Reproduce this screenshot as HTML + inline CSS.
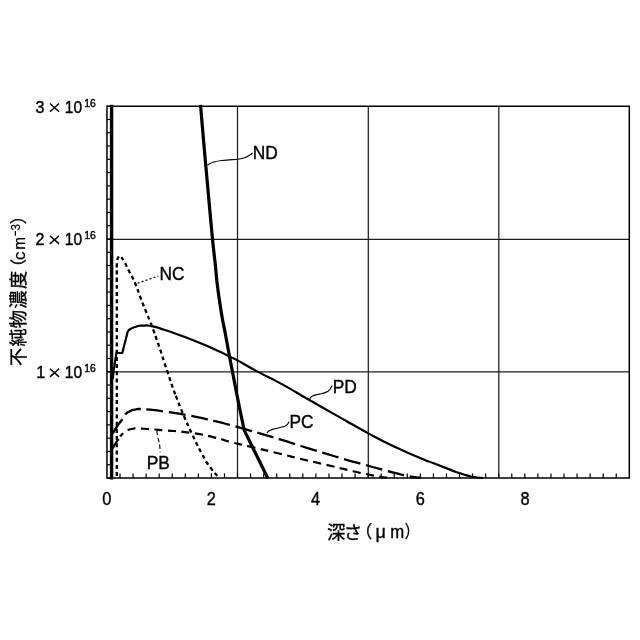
<!DOCTYPE html>
<html><head><meta charset="utf-8"><title>chart</title>
<style>html,body{margin:0;padding:0;background:#fff;overflow:hidden}svg{display:block;position:absolute;left:0;top:0;will-change:transform}</style></head>
<body>
<svg width="640" height="640" viewBox="0 0 640 640">
<rect width="640" height="640" fill="#fff"/>
<g stroke="#1c1c1c" stroke-width="1.25" fill="none">
<line x1="237.50" y1="106.20" x2="237.50" y2="478.00"/>
<line x1="368.30" y1="106.20" x2="368.30" y2="478.00"/>
<line x1="498.80" y1="106.20" x2="498.80" y2="478.00"/>
<line x1="106.95" y1="239.30" x2="629.30" y2="239.30"/>
<line x1="106.95" y1="371.95" x2="629.30" y2="371.95"/>
</g>
<g stroke="#000" stroke-width="1.5" fill="none">
<path d="M106.95 106.20 H629.30 V478.00 H106.95 Z"/>
</g>
<g stroke="#000" stroke-width="1.2" fill="none">
<line x1="120.01" y1="478.00" x2="120.01" y2="473.40"/>
<line x1="133.07" y1="478.00" x2="133.07" y2="473.40"/>
<line x1="146.13" y1="478.00" x2="146.13" y2="473.40"/>
<line x1="159.19" y1="478.00" x2="159.19" y2="473.40"/>
<line x1="172.24" y1="478.00" x2="172.24" y2="473.40"/>
<line x1="185.30" y1="478.00" x2="185.30" y2="473.40"/>
<line x1="198.36" y1="478.00" x2="198.36" y2="473.40"/>
<line x1="211.42" y1="478.00" x2="211.42" y2="473.40"/>
<line x1="224.48" y1="478.00" x2="224.48" y2="473.40"/>
<line x1="237.54" y1="478.00" x2="237.54" y2="473.40"/>
<line x1="250.60" y1="478.00" x2="250.60" y2="473.40"/>
<line x1="263.65" y1="478.00" x2="263.65" y2="473.40"/>
<line x1="276.71" y1="478.00" x2="276.71" y2="473.40"/>
<line x1="289.77" y1="478.00" x2="289.77" y2="473.40"/>
<line x1="302.83" y1="478.00" x2="302.83" y2="473.40"/>
<line x1="315.89" y1="478.00" x2="315.89" y2="473.40"/>
<line x1="328.95" y1="478.00" x2="328.95" y2="473.40"/>
<line x1="342.01" y1="478.00" x2="342.01" y2="473.40"/>
<line x1="355.07" y1="478.00" x2="355.07" y2="473.40"/>
<line x1="368.12" y1="478.00" x2="368.12" y2="473.40"/>
<line x1="381.18" y1="478.00" x2="381.18" y2="473.40"/>
<line x1="394.24" y1="478.00" x2="394.24" y2="473.40"/>
<line x1="407.30" y1="478.00" x2="407.30" y2="473.40"/>
<line x1="420.36" y1="478.00" x2="420.36" y2="473.40"/>
<line x1="433.42" y1="478.00" x2="433.42" y2="473.40"/>
<line x1="446.48" y1="478.00" x2="446.48" y2="473.40"/>
<line x1="459.54" y1="478.00" x2="459.54" y2="473.40"/>
<line x1="472.59" y1="478.00" x2="472.59" y2="473.40"/>
<line x1="485.65" y1="478.00" x2="485.65" y2="473.40"/>
<line x1="498.71" y1="478.00" x2="498.71" y2="473.40"/>
<line x1="511.77" y1="478.00" x2="511.77" y2="473.40"/>
<line x1="524.83" y1="478.00" x2="524.83" y2="473.40"/>
<line x1="537.89" y1="478.00" x2="537.89" y2="473.40"/>
<line x1="550.95" y1="478.00" x2="550.95" y2="473.40"/>
<line x1="564.01" y1="478.00" x2="564.01" y2="473.40"/>
<line x1="577.06" y1="478.00" x2="577.06" y2="473.40"/>
<line x1="590.12" y1="478.00" x2="590.12" y2="473.40"/>
<line x1="603.18" y1="478.00" x2="603.18" y2="473.40"/>
<line x1="616.24" y1="478.00" x2="616.24" y2="473.40"/>
<line x1="106.95" y1="478.00" x2="111.45" y2="478.00"/>
<line x1="106.95" y1="464.72" x2="111.45" y2="464.72"/>
<line x1="106.95" y1="451.44" x2="111.45" y2="451.44"/>
<line x1="106.95" y1="438.16" x2="111.45" y2="438.16"/>
<line x1="106.95" y1="424.89" x2="111.45" y2="424.89"/>
<line x1="106.95" y1="411.61" x2="111.45" y2="411.61"/>
<line x1="106.95" y1="398.33" x2="111.45" y2="398.33"/>
<line x1="106.95" y1="385.05" x2="111.45" y2="385.05"/>
<line x1="106.95" y1="371.77" x2="111.45" y2="371.77"/>
<line x1="106.95" y1="358.49" x2="111.45" y2="358.49"/>
<line x1="106.95" y1="345.21" x2="111.45" y2="345.21"/>
<line x1="106.95" y1="331.94" x2="111.45" y2="331.94"/>
<line x1="106.95" y1="318.66" x2="111.45" y2="318.66"/>
<line x1="106.95" y1="305.38" x2="111.45" y2="305.38"/>
<line x1="106.95" y1="292.10" x2="111.45" y2="292.10"/>
<line x1="106.95" y1="278.82" x2="111.45" y2="278.82"/>
<line x1="106.95" y1="265.54" x2="111.45" y2="265.54"/>
<line x1="106.95" y1="252.26" x2="111.45" y2="252.26"/>
<line x1="106.95" y1="238.99" x2="111.45" y2="238.99"/>
<line x1="106.95" y1="225.71" x2="111.45" y2="225.71"/>
<line x1="106.95" y1="212.43" x2="111.45" y2="212.43"/>
<line x1="106.95" y1="199.15" x2="111.45" y2="199.15"/>
<line x1="106.95" y1="185.87" x2="111.45" y2="185.87"/>
<line x1="106.95" y1="172.59" x2="111.45" y2="172.59"/>
<line x1="106.95" y1="159.31" x2="111.45" y2="159.31"/>
<line x1="106.95" y1="146.04" x2="111.45" y2="146.04"/>
<line x1="106.95" y1="132.76" x2="111.45" y2="132.76"/>
<line x1="106.95" y1="119.48" x2="111.45" y2="119.48"/>
<line x1="106.95" y1="106.20" x2="111.45" y2="106.20"/>
</g>
<g stroke="#000" fill="none" stroke-linejoin="round">
<line x1="111.6" y1="104.70" x2="111.6" y2="479.40" stroke-width="3.4"/>
<path d="M200.55 104.80 C201.53 116.53 201.32 114.93 203.50 140.00 C205.68 165.07 205.00 156.67 207.10 180.00 C209.20 203.33 208.00 190.42 209.80 210.00 C211.60 229.58 210.83 222.08 212.50 238.75 C214.17 255.42 212.50 239.58 214.80 260.00 C217.10 280.42 215.50 273.33 219.40 300.00 C223.30 326.67 222.13 316.03 226.50 340.00 C230.87 363.97 228.00 348.57 232.50 371.90 C237.00 395.23 236.03 390.43 240.00 410.00 C243.97 429.57 242.93 423.73 244.40 430.60 L267.8 478.3" stroke-width="3.2"/>
<path d="M112.80 379.00 L113.60 371.00 L115.00 362.00 L116.40 353.00 L122.30 353.00 L128.00 330.60" stroke-width="2.2"/>
<path d="M128.00 330.60 C130.33 329.40 130.00 328.67 135.00 327.00 C140.00 325.33 137.33 325.83 143.00 325.60 C148.67 325.37 144.67 324.83 152.00 326.30 C159.33 327.77 155.67 327.00 165.00 330.00 C174.33 333.00 171.67 332.27 180.00 335.30 C188.33 338.33 178.33 334.40 190.00 339.10 C201.67 343.80 201.67 343.50 215.00 349.40 C228.33 355.30 222.50 353.13 230.00 356.80 C237.50 360.47 228.13 355.37 237.50 360.40 C246.87 365.43 243.93 364.33 258.10 371.90 C272.27 379.47 262.90 373.73 280.00 383.10 C297.10 392.47 291.07 389.50 309.40 400.00 C327.73 410.50 318.13 405.02 335.00 414.60 C351.87 424.18 345.00 420.45 360.00 428.75 C375.00 437.05 367.50 433.05 380.00 439.50 C392.50 445.95 384.17 441.93 397.50 448.10 C410.83 454.27 407.50 452.77 420.00 458.00 C432.50 463.23 425.00 459.93 435.00 463.80 C445.00 467.67 441.67 466.43 450.00 469.60 C458.33 472.77 453.33 471.10 460.00 473.30 C466.67 475.50 464.33 474.80 470.00 476.20 C475.67 477.60 472.67 476.90 477.00 477.50 C481.33 478.10 481.00 477.83 483.00 478.00" stroke-width="2.2"/>
<path d="M112.50 434.00 C114.00 431.50 113.87 431.23 117.00 426.50 C120.13 421.77 119.23 423.77 121.90 419.80 C124.57 415.83 122.30 417.47 125.00 414.60 C127.70 411.73 126.67 412.87 130.00 411.20 C133.33 409.53 131.47 410.33 135.00 409.60 C138.53 408.87 135.60 408.97 140.60 409.00 C145.60 409.03 141.87 408.83 150.00 409.70 C158.13 410.57 151.67 409.63 165.00 411.60 C178.33 413.57 173.33 412.40 190.00 415.60 C206.67 418.80 201.67 418.07 215.00 421.20 C228.33 424.33 218.33 421.87 230.00 425.00 C241.67 428.13 233.33 425.80 250.00 430.60 C266.67 435.40 263.00 434.27 280.00 439.40 C297.00 444.53 286.83 441.60 301.00 446.00 C315.17 450.40 308.25 448.27 322.50 452.60 C336.75 456.93 331.05 455.30 343.75 459.00 C356.45 462.70 347.52 460.10 360.60 463.70 C373.68 467.30 371.20 466.63 383.00 469.80 C394.80 472.97 388.67 471.30 396.00 473.20 C403.33 475.10 399.33 474.23 405.00 475.50 C410.67 476.77 407.67 476.20 413.00 477.00 C418.33 477.80 418.33 477.60 421.00 477.90" stroke-width="2.3" stroke-dasharray="17.1 5.59" stroke-dashoffset="22.06"/>
<path d="M123.20 433.00 C124.63 432.07 124.57 431.53 127.50 430.20 C130.43 428.87 128.50 429.57 132.00 429.00 C135.50 428.43 132.00 428.43 138.00 428.50 C144.00 428.57 141.00 428.57 150.00 429.20 C159.00 429.83 151.67 429.23 165.00 430.40 C178.33 431.57 173.33 430.30 190.00 432.70 C206.67 435.10 201.67 434.53 215.00 437.60 C228.33 440.67 218.33 438.90 230.00 441.90 C241.67 444.90 233.33 442.65 250.00 446.60 C266.67 450.55 263.33 449.72 280.00 453.75 C296.67 457.78 284.67 455.03 300.00 458.70 C315.33 462.37 308.33 460.57 326.00 464.75 C343.67 468.93 339.67 468.17 353.00 471.25 C366.33 474.33 357.33 472.25 366.00 474.00 C374.67 475.75 371.67 475.23 379.00 476.50 C386.33 477.77 385.00 477.37 388.00 477.80" stroke-width="2.2" stroke-dasharray="8.2 5.34" stroke-dashoffset="8.31"/>
<path d="M112.5 448.4 L116 442.6 L118.6 439 M120 436.6 L123.1 433.2" stroke-width="2.2"/>
<path d="M116.8 478 L116.8 290 L116.80 290.00 C116.80 286.67 116.80 286.00 116.80 280.00 C116.80 274.00 116.80 276.67 116.80 272.00 C116.80 267.33 116.67 269.83 116.80 266.00 C116.93 262.17 116.73 263.33 117.20 260.50 C117.67 257.67 117.47 258.97 118.20 257.50 C118.93 256.03 118.53 256.33 119.40 256.10 C120.27 255.87 119.27 255.17 120.80 256.80 C122.33 258.43 122.00 257.77 124.00 261.00 C126.00 264.23 124.93 262.77 126.80 266.50 C128.67 270.23 126.73 266.37 129.60 272.20 C132.47 278.03 131.60 275.07 135.40 284.00 C139.20 292.93 137.67 290.33 141.00 299.00 C144.33 307.67 142.23 302.20 145.40 310.00 C148.57 317.80 147.73 315.40 150.50 322.40 C153.27 329.40 151.57 325.13 153.70 331.00 C155.83 336.87 154.70 333.67 156.90 340.00 C159.10 346.33 156.93 339.83 160.30 350.00 C163.67 360.17 162.43 356.83 167.00 370.50 C171.57 384.17 170.92 382.20 174.00 391.00 C177.08 399.80 173.00 388.70 176.25 396.90 C179.50 405.10 178.33 402.90 183.75 415.60 C189.17 428.30 186.45 422.28 192.50 435.00 C198.55 447.72 196.07 443.08 201.90 453.75 C207.73 464.42 204.13 458.92 210.00 467.00 C215.87 475.08 216.33 474.33 219.50 478.00" stroke-width="2.3" stroke-dasharray="4 3.2" stroke-dashoffset="5.29"/>
</g>
<g stroke="#000" fill="none" stroke-width="1.1">
<path d="M207.5 165 C212 162 217 161 222 160.5 C229 159.8 234 159.6 238 159.2 C243 158.7 248 157 252.5 153"/>
<path d="M309.4 400 C310 397.8 311 396.8 311.9 396.25 C315 394.6 318 394.4 321.25 393.75 C324 393.2 326.3 392.5 328.1 391.25 C330 389.8 330.8 388.5 332.2 385.4"/>
<path d="M266.9 433.1 C268 431 270 430 272.5 429.4 C277 428.2 281 427.4 285 426.25 C287 425.6 288 424.5 289 421.8"/>
<path d="M137.6 283.2 L158.3 276.1" stroke-dasharray="2 2.2" stroke-width="1.25"/>
<path d="M156.9 430.6 C157 433 157.2 434.5 157.5 436 C158.2 439 159 441.5 159.4 443.75 C160 447 160 449 160.1 452.2" stroke-dasharray="4.5 2.6"/>
</g>
<g font-family="'Liberation Sans', sans-serif" font-size="18" fill="#000" stroke="#000" stroke-width="0.4">
<text transform="translate(252.68 159.40) scale(0.960 1)" font-size="18.00">ND</text>
<text transform="translate(159.48 279.70) scale(0.960 1)" font-size="18.00">NC</text>
<text transform="translate(332.68 393.10) scale(0.960 1)" font-size="18.00">PD</text>
<text transform="translate(289.48 428.30) scale(0.960 1)" font-size="18.00">PC</text>
<text transform="translate(146.68 468.70) scale(0.960 1)" font-size="18.00">PB</text>
<text transform="translate(106.85 505.20) scale(0.910 1)" font-size="18.00" text-anchor="middle">0</text>
<text transform="translate(211.40 505.20) scale(0.910 1)" font-size="18.00" text-anchor="middle">2</text>
<text transform="translate(315.60 505.20) scale(0.910 1)" font-size="18.00" text-anchor="middle">4</text>
<text transform="translate(420.30 505.20) scale(0.910 1)" font-size="18.00" text-anchor="middle">6</text>
<text transform="translate(525.00 505.20) scale(0.910 1)" font-size="18.00" text-anchor="middle">8</text>
<text transform="translate(35.39 112.70) scale(0.930 1)" font-size="17.30">3</text>
<text transform="translate(64.75 112.70) scale(0.900 1)" font-size="17.30">1</text>
<text transform="translate(73.41 112.70) scale(0.900 1)" font-size="17.30">0</text>
<text transform="translate(84.17 107.00) scale(0.930 1)" font-size="11.20">1</text>
<text transform="translate(89.96 107.00) scale(0.930 1)" font-size="11.20">6</text>
<path d="M49.90 103.50 L59.10 111.70 M49.90 111.70 L59.10 103.50" stroke="#000" stroke-width="1.5" fill="none"/>
<text transform="translate(35.39 244.90) scale(0.930 1)" font-size="17.30">2</text>
<text transform="translate(64.75 244.90) scale(0.900 1)" font-size="17.30">1</text>
<text transform="translate(73.41 244.90) scale(0.900 1)" font-size="17.30">0</text>
<text transform="translate(84.17 239.20) scale(0.930 1)" font-size="11.20">1</text>
<text transform="translate(89.96 239.20) scale(0.930 1)" font-size="11.20">6</text>
<path d="M49.90 235.70 L59.10 243.90 M49.90 243.90 L59.10 235.70" stroke="#000" stroke-width="1.5" fill="none"/>
<text transform="translate(36.20 377.90) scale(0.930 1)" font-size="17.30">1</text>
<text transform="translate(64.75 377.90) scale(0.900 1)" font-size="17.30">1</text>
<text transform="translate(73.41 377.90) scale(0.900 1)" font-size="17.30">0</text>
<text transform="translate(84.17 372.20) scale(0.930 1)" font-size="11.20">1</text>
<text transform="translate(89.96 372.20) scale(0.930 1)" font-size="11.20">6</text>
<path d="M49.90 368.70 L59.10 376.90 M49.90 376.90 L59.10 368.70" stroke="#000" stroke-width="1.5" fill="none"/>
<text transform="translate(390.30 538.20) scale(0.930 1)" font-size="18.00">m</text>
</g>
<g fill="#000" stroke="#000" stroke-width="0.35" font-family="'Liberation Sans', 'Noto Sans CJK JP', sans-serif">
<text x="326.9" y="538.6" font-size="18.4">深</text>
<text x="343.7" y="538.6" font-size="18.4">さ</text>
<text x="355.2" y="538.2" font-size="17">（</text>
<text x="375.6" y="538.2" font-size="18">μ</text>
<text transform="translate(404.84 538.2) scale(0.85 1)" font-size="17">）</text>
</g>
<g transform="translate(25.4 365.2) rotate(-90)" fill="#000" stroke="#000" stroke-width="0.35" font-family="'Liberation Sans', 'Noto Sans CJK JP', sans-serif" font-size="17">
<text x="-0.7" y="-0.6" font-size="18.2">不</text>
<text x="18.7" y="-0.6" font-size="18.2">純</text>
<text x="37.0" y="-0.6" font-size="18.2">物</text>
<text x="56.5" y="-0.6" font-size="18.2">濃</text>
<text x="76.1" y="-0.6" font-size="18.2">度</text>
<text x="89.8" y="-0.8" font-size="16.6">（</text>
<text transform="translate(105.19 0.00) scale(1.000 1)" font-size="17.00" stroke-width="0.25">c</text>
<text transform="translate(115.39 0.00) scale(0.900 1)" font-size="17.00" stroke-width="0.25">m</text>
<path d="M129.50 -10 H134.20" stroke="#000" stroke-width="1.25"/>
<text transform="translate(134.74 -5.50) scale(0.970 1)" font-size="12.00" stroke-width="0.2">3</text>
<text x="140.9" y="-0.8" font-size="17">）</text>
</g>
</svg>
</body></html>
